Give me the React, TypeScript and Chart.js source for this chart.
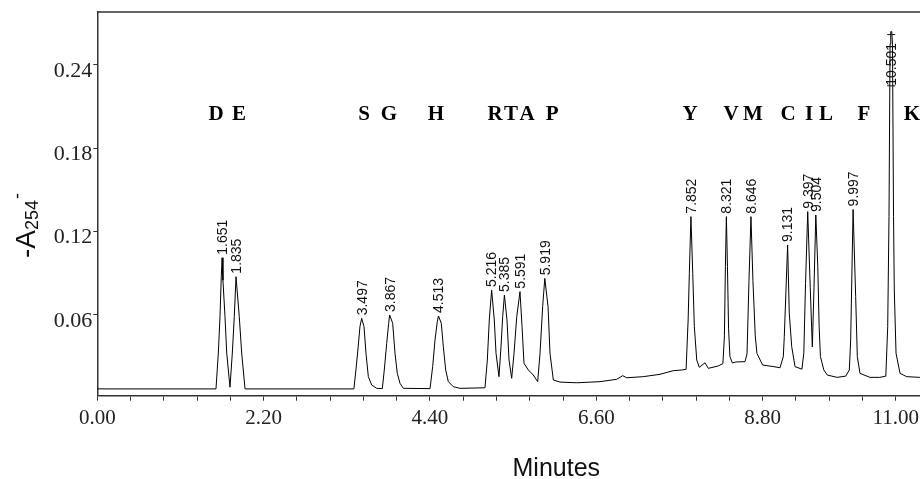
import React, { useEffect, useRef } from 'react';
import { Chart, registerables } from 'chart.js';

Chart.register(...registerables);

// Chromatogram trace (time in minutes, absorbance)
const traceTime = [
  0.0, 1.57, 1.601, 1.623, 1.64, 1.651, 1.662, 1.689, 1.712, 1.755,
  1.786, 1.812, 1.835, 1.878, 1.91, 1.954,
  3.394, 3.421, 3.451, 3.474, 3.497, 3.528, 3.554, 3.585, 3.63, 3.696,
  3.77, 3.796, 3.828, 3.854, 3.867, 3.907, 3.938, 3.968, 4.004, 4.048,
  4.401, 4.436, 4.467, 4.497, 4.513, 4.55, 4.577, 4.608, 4.643, 4.709, 4.798,
  5.128, 5.159, 5.185, 5.216, 5.251, 5.274, 5.313, 5.34, 5.362, 5.385,
  5.419, 5.446, 5.481, 5.512, 5.548, 5.591, 5.618, 5.644, 5.701, 5.767,
  5.825, 5.856, 5.891, 5.919, 5.962, 5.988, 6.032, 6.12, 6.341, 6.65,
  6.87, 6.95, 7.003, 7.222, 7.443, 7.619, 7.73, 7.788,
  7.815, 7.831, 7.852, 7.876, 7.897, 7.929, 7.963, 8.038, 8.082, 8.214,
  8.275, 8.295, 8.308, 8.321, 8.335, 8.35, 8.368, 8.4, 8.45,
  8.567, 8.594, 8.62, 8.646, 8.672, 8.703, 8.725, 8.8, 8.95,
  9.03, 9.074, 9.087, 9.131, 9.153, 9.185, 9.229,
  9.32, 9.345, 9.368, 9.397, 9.43, 9.458, 9.48, 9.504, 9.53, 9.548, 9.565,
  9.61, 9.655, 9.785, 9.9, 9.947, 9.965, 9.997, 10.031, 10.053, 10.088,
  10.22, 10.35, 10.43, 10.455, 10.472, 10.486, 10.495, 10.508, 10.518,
  10.532, 10.542, 10.565, 10.618, 10.706, 10.88, 11.0,
];
const traceAbs = [
  0.0068, 0.0068, 0.0326, 0.0588, 0.0879, 0.1012, 0.085, 0.0588, 0.0326, 0.008,
  0.0326, 0.0588, 0.0876, 0.0588, 0.0326, 0.0068,
  0.0068, 0.0204, 0.0372, 0.0516, 0.0576, 0.0516, 0.0324, 0.0156, 0.0096, 0.0072,
  0.007, 0.0204, 0.0396, 0.054, 0.06, 0.054, 0.0324, 0.018, 0.0108, 0.0072,
  0.007, 0.0228, 0.042, 0.0552, 0.0593, 0.054, 0.0372, 0.0204, 0.012, 0.0084, 0.0072,
  0.0076, 0.0276, 0.0564, 0.078, 0.0564, 0.0324, 0.0156, 0.0372, 0.0588, 0.0744,
  0.0564, 0.0276, 0.0144, 0.0324, 0.0588, 0.0768, 0.0516, 0.0252, 0.0204, 0.0168,
  0.012, 0.0324, 0.066, 0.0864, 0.066, 0.0324, 0.0132, 0.0117, 0.0112, 0.012,
  0.0137, 0.0163, 0.0148, 0.0156, 0.0173, 0.0199, 0.0204, 0.0209,
  0.0564, 0.09, 0.1308, 0.09, 0.0516, 0.0276, 0.0223, 0.0256, 0.0216, 0.0233,
  0.025, 0.045, 0.095, 0.1308, 0.095, 0.05, 0.03, 0.0255, 0.0262,
  0.0264, 0.032, 0.085, 0.1308, 0.085, 0.045, 0.0324, 0.024, 0.0228,
  0.022, 0.03, 0.0444, 0.1104, 0.0612, 0.0372, 0.0228,
  0.021, 0.0324, 0.0828, 0.1344, 0.08, 0.037, 0.08, 0.132, 0.0948, 0.0516, 0.03,
  0.0204, 0.0168, 0.0151, 0.016, 0.0204, 0.042, 0.136, 0.0732, 0.03, 0.018,
  0.0151, 0.0151, 0.016, 0.0516, 0.131, 0.255, 0.264, 0.264, 0.255,
  0.131, 0.078, 0.0324, 0.018, 0.0156, 0.0151, 0.015,
];

// Peak retention-time labels
const peakTimes = [
  1.651, 1.835, 3.497, 3.867, 4.513, 5.216, 5.385, 5.591, 5.919,
  7.852, 8.321, 8.646, 9.131, 9.397, 9.504, 9.997, 10.501,
];
const peakLabels = [
  '1.651', '1.835', '3.497', '3.867', '4.513', '5.216', '5.385', '5.591', '5.919',
  '7.852', '8.321', '8.646', '9.131', '9.397', '9.504', '9.997', '10.501',
];

// Amino-acid letters above the peaks
const aminoLetters = ['D', 'E', 'S', 'G', 'H', 'R', 'T', 'A', 'P', 'Y', 'V', 'M', 'C', 'I', 'L', 'F', 'K'];
const letterTimes = [
  1.57, 1.874, 3.528, 3.858, 4.48, 5.26, 5.472, 5.684, 6.015,
  7.84, 8.382, 8.673, 9.136, 9.414, 9.638, 10.141, 10.776,
];
const letterLevel = 0.2;

// Axis ticks
const xTickValues = [
  0, 0.44, 0.88, 1.32, 1.76, 2.2, 2.64, 3.08, 3.52, 3.96, 4.4, 4.84, 5.28,
  5.72, 6.16, 6.6, 7.04, 7.48, 7.92, 8.36, 8.8, 9.24, 9.68, 10.12, 10.56,
];
const xTickLabels = [
  '0.00', '', '', '', '', '2.20', '', '', '', '', '4.40', '', '', '', '', '6.60',
  '', '', '', '', '8.80', '', '', '', '11.00',
];
const yTickValues = [0.06, 0.12, 0.18, 0.24];
const yTickLabels = ['0.06', '0.12', '0.18', '0.24'];

const SANS = '"Liberation Sans", Arial, sans-serif';
const SERIF = '"Liberation Serif", "Times New Roman", serif';

const annotationsPlugin = {
  id: 'chromAnnotations',
  afterDraw(chart: any) {
    const { ctx, chartArea, scales } = chart;
    const x = scales.x;
    const y = scales.y;
    ctx.save();

    // top frame line
    ctx.strokeStyle = '#333';
    ctx.lineWidth = 1.5;
    ctx.beginPath();
    ctx.moveTo(chartArea.left, chartArea.top);
    ctx.lineTo(chartArea.right, chartArea.top);
    ctx.stroke();

    // retention time labels
    ctx.font = `14px ${SANS}`;
    ctx.fillStyle = '#111';
    ctx.strokeStyle = '#111';
    ctx.lineWidth = 1;
    peakTimes.forEach((t, i) => {
      let apex = 0;
      traceTime.forEach((tt, j) => {
        if (Math.abs(tt - t) <= 0.02 && traceAbs[j] > apex) apex = traceAbs[j];
      });
      const px = x.getPixelForValue(t);
      const py = y.getPixelForValue(apex);
      const w = ctx.measureText(peakLabels[i]).width;
      let start = py - 3;
      let clamped = false;
      if (start - w < chartArea.top + 31) {
        start = chartArea.top + 31 + w;
        clamped = true;
      }
      ctx.save();
      ctx.translate(px + 1, start);
      ctx.rotate(-Math.PI / 2);
      ctx.textAlign = 'left';
      ctx.textBaseline = 'middle';
      ctx.fillText(peakLabels[i], 0, 0);
      ctx.restore();
      if (clamped) {
        ctx.beginPath();
        ctx.moveTo(px - 4, py + 3);
        ctx.lineTo(px + 4, py + 3);
        ctx.moveTo(px - 4, start);
        ctx.lineTo(px + 4, start);
        ctx.stroke();
      }
    });

    // amino acid letters
    ctx.font = `bold 21px ${SERIF}`;
    ctx.fillStyle = '#000';
    ctx.textAlign = 'center';
    ctx.textBaseline = 'alphabetic';
    aminoLetters.forEach((l, i) => {
      ctx.fillText(l, x.getPixelForValue(letterTimes[i]), y.getPixelForValue(letterLevel));
    });

    // y axis title: -A254-
    ctx.save();
    ctx.translate(chartArea.left - 62, chartArea.top + 246);
    ctx.rotate(-Math.PI / 2);
    ctx.textAlign = 'left';
    ctx.textBaseline = 'alphabetic';
    ctx.fillStyle = '#111';
    ctx.font = `28px ${SANS}`;
    ctx.fillText('-A', 0, 0);
    const w1 = ctx.measureText('-A').width;
    ctx.font = `18px ${SANS}`;
    ctx.fillText('254', w1, 3);
    const w2 = ctx.measureText('254').width;
    ctx.fillText('-', w1 + w2 + 1, -12);
    ctx.restore();

    // x axis title
    ctx.font = `25px ${SANS}`;
    ctx.fillStyle = '#111';
    ctx.textAlign = 'center';
    ctx.textBaseline = 'alphabetic';
    ctx.fillText('Minutes', chartArea.left + 459, chartArea.bottom + 80);

    ctx.restore();
  },
};

export default function App() {
  const ref = useRef<HTMLCanvasElement>(null);
  useEffect(() => {
    if (!ref.current) return;
    const points = traceTime.map((t, i) => ({ x: t, y: traceAbs[i] }));
    const chart = new Chart(ref.current, {
      type: 'line',
      data: {
        datasets: [
          {
            data: points,
            borderColor: '#000',
            borderWidth: 1,
            pointRadius: 0,
            tension: 0,
            fill: false,
          },
        ],
      },
      options: {
        animation: false,
        responsive: true,
        maintainAspectRatio: false,
        layout: { padding: { top: 12, left: 0, right: 0, bottom: 0 } },
        plugins: { legend: { display: false }, tooltip: { enabled: false }, title: { display: false } },
        scales: {
          x: {
            type: 'linear',
            min: 0,
            max: 10.882,
            afterBuildTicks: (s: any) => {
              s.ticks = xTickValues.map((v) => ({ value: v }));
            },
            afterFit: (s: any) => {
              s.height = 83.3;
              s.paddingLeft = 0;
              s.paddingRight = 0;
            },
            ticks: {
              autoSkip: false,
              maxRotation: 0,
              minRotation: 0,
              callback: (_v: any, i: number) => xTickLabels[i],
              font: { family: SERIF, size: 21 },
              color: '#222',
              padding: 5,
              labelOffset: 0,
            },
            grid: { drawOnChartArea: false, drawTicks: true, tickLength: 5, tickColor: '#333', tickWidth: 1 },
            border: { display: true, color: '#333', width: 1.5 },
          },
          y: {
            type: 'linear',
            min: 0.0019,
            max: 0.2781,
            afterBuildTicks: (s: any) => {
              s.ticks = yTickValues.map((v) => ({ value: v }));
            },
            afterFit: (s: any) => {
              s.width = 97.3;
              s.paddingTop = 0;
              s.paddingBottom = 0;
            },
            ticks: {
              callback: (_v: any, i: number) => yTickLabels[i],
              font: { family: SERIF, size: 22 },
              color: '#222',
              padding: 1,
              labelOffset: 6,
            },
            grid: { drawOnChartArea: false, drawTicks: true, tickLength: 4, tickColor: '#333', tickWidth: 1 },
            border: { display: true, color: '#333', width: 1.5 },
          },
        },
      },
      plugins: [annotationsPlugin],
    });
    return () => chart.destroy();
  }, []);

  return (
    <div style={{ position: 'absolute', left: 0, top: 0, width: 920, height: 479, background: '#fff' }}>
      <canvas ref={ref} />
    </div>
  );
}
